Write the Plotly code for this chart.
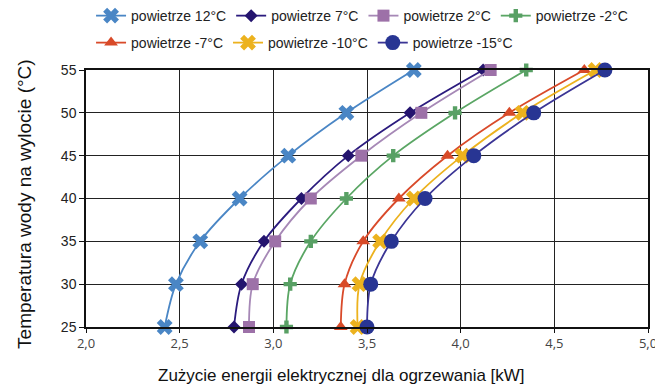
import plotly.graph_objects as go

# Outlet water temperature (°C) – common y values for all series
water_temp = [25, 30, 35, 40, 45, 50, 55]

# Electrical power consumption for heating [kW] at each air temperature
p_12 = [2.42, 2.48, 2.61, 2.82, 3.08, 3.39, 3.75]
p_7 = [2.79, 2.83, 2.95, 3.15, 3.40, 3.73, 4.12]
p_2 = [2.87, 2.89, 3.01, 3.20, 3.47, 3.79, 4.16]
p_m2 = [3.07, 3.09, 3.20, 3.39, 3.64, 3.97, 4.35]
p_m7 = [3.36, 3.38, 3.48, 3.67, 3.93, 4.26, 4.66]
p_m10 = [3.45, 3.46, 3.57, 3.75, 4.01, 4.33, 4.72]
p_m15 = [3.50, 3.52, 3.63, 3.81, 4.07, 4.39, 4.77]

series_names = ["powietrze 12°C", "powietrze 7°C", "powietrze 2°C", "powietrze -2°C",
                "powietrze -7°C", "powietrze -10°C", "powietrze -15°C"]
series_values = [p_12, p_7, p_2, p_m2, p_m7, p_m10, p_m15]

# (line colour, marker colour, marker symbol, marker size, legend row)
styles = [
    ("#4a86c5", "#4a86c5", "x", 14, "legend"),
    ("#2b1b7e", "#24146e", "diamond", 10, "legend"),
    ("#a688b6", "#9d71a8", "square", 12, "legend"),
    ("#5aa664", "#58a064", "cross", 11, "legend"),
    ("#d94a2a", "#d84a28", "triangle-up", 12, "legend2"),
    ("#ecb21e", "#ecb21e", "x", 14, "legend2"),
    ("#3b3595", "#283593", "circle", 15, "legend2"),
]

fig = go.Figure()
for name, vals, (lc, mc, sym, ms, lg) in zip(series_names, series_values, styles):
    fig.add_trace(go.Scatter(
        x=vals, y=water_temp, name=name, mode="lines+markers",
        line=dict(color=lc, width=1.8, shape="spline", smoothing=0.9),
        marker=dict(color=mc, symbol=sym, size=ms, line=dict(width=0)),
        legend=lg, cliponaxis=False,
    ))

legend_common = dict(
    orientation="h", xanchor="left", yanchor="middle",
    font=dict(family="Liberation Sans, Arial", size=14, color="#222"),
    bgcolor="rgba(0,0,0,0)", itemwidth=30, tracegroupgap=0,
)

title_font = dict(family="Liberation Sans, Arial", size=17, color="#111")

fig.update_layout(
    width=655, height=389,
    margin=dict(l=86, r=7, t=70, b=62, autoexpand=False),
    plot_bgcolor="white", paper_bgcolor="white",
    separators=", ",
    showlegend=True,
    legend=dict(x=0.009, y=1.21, **legend_common),
    legend2=dict(x=0.009, y=1.105, **legend_common),
    xaxis=dict(
        range=[2.0, 5.0], dtick=0.5, tickformat=".1f",
        showgrid=True, gridcolor="#222", gridwidth=1,
        showline=True, linecolor="#111", linewidth=1.5, mirror=True,
        ticks="outside", ticklen=4, tickcolor="#111",
        tickfont=dict(family="Open Sans", size=13, color="#444"),
        ticklabeloverflow="allow",
        zeroline=False, automargin=False,
    ),
    yaxis=dict(
        range=[25, 55], dtick=5,
        showgrid=True, gridcolor="#222", gridwidth=1,
        showline=True, linecolor="#111", linewidth=1.5, mirror=True,
        ticks="outside", ticklen=5, tickcolor="#111",
        tickfont=dict(family="Liberation Sans, Arial", size=14, color="#222"),
        ticklabeloverflow="allow",
        zeroline=False, automargin=False,
    ),
    annotations=[
        dict(text="Zużycie energii elektrycznej dla ogrzewania [kW]",
             xref="paper", yref="paper", x=0.455, y=-0.19,
             xanchor="center", yanchor="middle", showarrow=False,
             font=title_font),
        dict(text="Temperatura wody na wylocie (°C)", textangle=-90,
             xref="paper", yref="paper", x=-0.1085, y=0.479,
             xanchor="center", yanchor="middle", showarrow=False,
             font=dict(family="Liberation Sans, Arial", size=19, color="#111")),
    ],
)

fig.write_html("out.html")
